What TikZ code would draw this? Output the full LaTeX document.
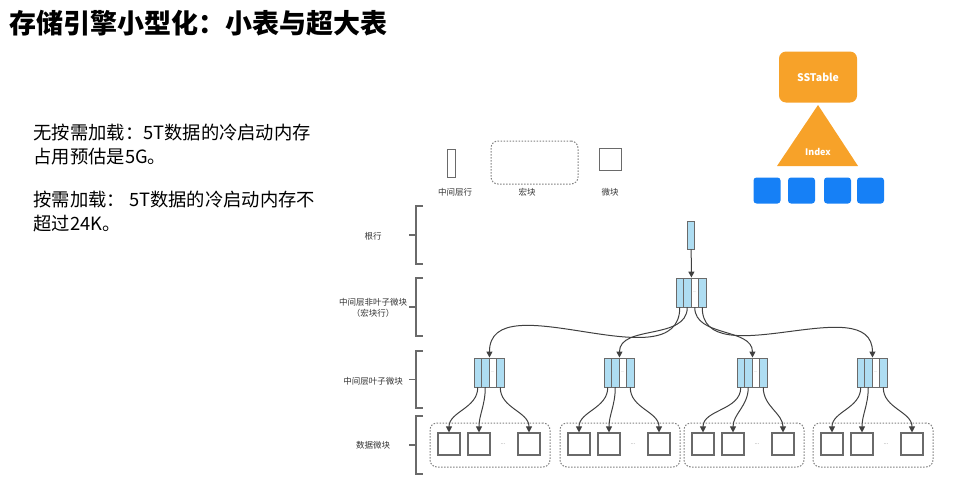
\documentclass[tikz,border=0pt]{standalone}
\usepackage{fontspec}
\setmainfont{Noto Sans CJK SC}
\usetikzlibrary{arrows.meta}
\definecolor{cellblue}{HTML}{AEDDF2}
\definecolor{linegray}{HTML}{6A6A6A}
\definecolor{ssorange}{HTML}{F7A229}
\definecolor{blockblue}{HTML}{1680F6}
\tikzstyle{cell} = [rectangle, minimum width=7.5pt, minimum height=29pt, inner sep=0pt, line width=0.9pt, draw=linegray, fill=cellblue]
\tikzstyle{gapcell} = [cell, fill=white, font=\fontsize{4}{4}\selectfont, text=gray]
\tikzstyle{micro} = [rectangle, minimum size=22pt, inner sep=0pt, line width=1.1pt, draw=linegray]
\tikzstyle{macro} = [rectangle, rounded corners=7pt, draw=gray, line width=1pt, dash pattern=on 1.5pt off 1.5pt, minimum width=120pt, minimum height=44pt]
\tikzstyle{arrow} = [draw=black!75, line width=1pt, -{Triangle[length=6pt,width=6pt]}]
\tikzstyle{lvl} = [font=\fontsize{8.5}{10.5}\selectfont, text=black!80, align=center]
\tikzstyle{bracket} = [draw=linegray, line width=1.1pt]
\tikzstyle{bluebox} = [rectangle, rounded corners=3pt, fill=blockblue, minimum width=27pt, minimum height=26pt]

\begin{document}
\begin{tikzpicture}[x=1pt, y=-1pt]
\useasboundingbox (0,0) rectangle (958,490);

% title and notes
\node (title) [anchor=west, font=\fontsize{27}{30}\selectfont\bfseries] at (6,23) {存储引擎小型化：小表与超大表};
\node (note1) [anchor=north west, align=left, font=\fontsize{18.3}{24}\selectfont] at (30,120) {无按需加载：5T数据的冷启动内存\\占用预估是5G。};
\node (note2) [anchor=north west, align=left, font=\fontsize{18.3}{24}\selectfont] at (30,187) {按需加载： 5T数据的冷启动内存不\\超过24K。};

% SSTable sketch
\node (sst) [rectangle, rounded corners=7pt, fill=ssorange, minimum width=78pt, minimum height=51pt, text=white, font=\fontsize{10.5}{12}\selectfont\bfseries] at (818,77) {SSTable};
\fill[ssorange] (777,166) -- (818,105) -- (858,166) -- cycle;
\node (idx) [text=white, font=\fontsize{9}{11}\selectfont\bfseries] at (818,152) {Index};
\node (b1) [bluebox] at (767,190.5) {};
\node (b2) [bluebox] at (801.5,190.5) {};
\node (b3) [bluebox] at (837.5,190.5) {};
\node (b4) [bluebox] at (870.5,190.5) {};

% legend
\node (rowkey) [cell, fill=white, minimum width=8pt, minimum height=28pt] at (451.5,163) {};
\node (rowkeytxt) [lvl] at (455,192) {中间层行};
\node (macrokey) [macro, minimum width=87pt, minimum height=43pt] at (534.5,162.5) {};
\node (macrokeytxt) [lvl] at (527,192) {宏块};
\node (microkey) [micro] at (610.5,159.5) {};
\node (microkeytxt) [lvl] at (610,192) {微块};

% level brackets
\foreach \t/\b in {206/264, 278/336, 351/408, 416/474}
  \draw[bracket] (423,\t) -- (416,\t) -- (416,\b) -- (423,\b)
                 (416,{(\t+\b)/2}) -- (409,{(\t+\b)/2});
\node (lv1) [lvl] at (373,236) {根行};
\node (lv2) [lvl] at (373,308) {中间层非叶子微块\\（宏块行）};
\node (lv3) [lvl] at (373,381) {中间层叶子微块};
\node (lv4) [lvl] at (373,445) {数据微块};

% root row and macro-block row
\node (root) [cell, minimum height=28pt] at (691,235) {};
\node (m1) [cell] at (679.75,292.5) {};
\node (m2) [cell] at (687.25,292.5) {};
\node (m3) [gapcell] at (694.75,292.5) {...};
\node (m4) [cell] at (702.25,292.5) {};
\draw[arrow] (root) -- (m2.north east);

% leaf micro blocks
\foreach \c [count=\i] in {489,619,752,872} {
  \node (l\i-1) [cell] at (\c-11.25,372.5) {};
  \node (l\i-2) [cell] at (\c-3.75,372.5) {};
  \node (l\i-3) [gapcell] at (\c+3.75,372.5) {...};
  \node (l\i-4) [cell] at (\c+11.25,372.5) {};
  \draw[arrow] (m\i.south) to[out=-90,in=90] (l\i-2.north east);
}

% data micro blocks
\foreach \c [count=\i] in {490,620,744,873} {
  \node (g\i) [macro] at (\c,445) {};
  \node (d\i-1) [micro] at (\c-41,444) {};
  \node (d\i-2) [micro] at (\c-11,444) {};
  \node (d\i-3) [micro] at (\c+39,444) {};
  \node (dots\i) [font=\fontsize{6}{6}\selectfont, text=gray] at (\c+13,444) {...};
  \draw[arrow] (l\i-1.south) to[out=-90,in=90] (d\i-1.north);
  \draw[arrow] (l\i-2.south) to[out=-90,in=90] (d\i-2.north);
  \draw[arrow] (l\i-4.south) to[out=-90,in=90] (d\i-3.north);
}
\end{tikzpicture}
\end{document}
